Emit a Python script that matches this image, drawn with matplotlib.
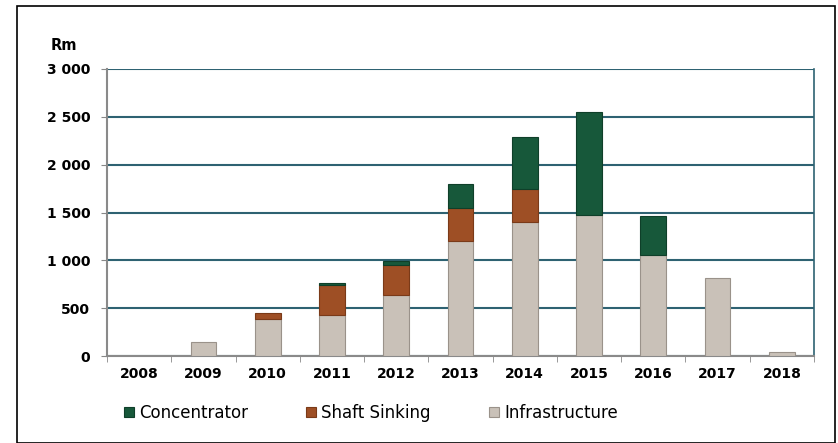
import matplotlib.pyplot as plt
import numpy as np
from matplotlib.patches import Rectangle

years = ['2008', '2009', '2010', '2011', '2012', '2013', '2014', '2015', '2016', '2017', '2018']
infrastructure = [5, 150, 390, 430, 640, 1200, 1400, 1470, 1060, 812, 40]
shaft_sinking = [0, 0, 60, 310, 310, 350, 350, 0, 0, 0, 0]
concentrator = [0, 0, 0, 20, 40, 245, 540, 1080, 400, 0, 0]
y_ticks = [0, 500, 1000, 1500, 2000, 2500, 3000]
y_labels = ['0', '500', '1 000', '1 500', '2 000', '2 500', '3 000']

c_infra = '#c9c1b8'
c_shaft = '#9e4f25'
c_conc = '#17583a'
c_grid = '#2e6272'

fig = plt.figure(figsize=(8.38, 4.43), dpi=100)
ax = fig.add_axes([107 / 838, 1 - 356 / 443, (814 - 107) / 838, (356 - 69) / 443])

# outer frame
fig.patches.append(Rectangle((17 / 838, 0), (835 - 17) / 838, 1 - 6 / 443,
                             transform=fig.transFigure, fill=False,
                             edgecolor='black', linewidth=1.2))

x = np.arange(len(years))
w = 0.4
infra = np.array(infrastructure)
shaft = np.array(shaft_sinking)
conc = np.array(concentrator)


def stack(vals, bottom, color, edge, label):
    m = vals > 0
    ax.bar(x[m], vals[m], w, bottom=bottom[m], color=color, edgecolor=edge,
           linewidth=0.8, label=label, zorder=3)


stack(infra, np.zeros_like(infra), c_infra, '#9a928a', 'Infrastructure')
stack(shaft, infra, c_shaft, '#7a3a18', 'Shaft Sinking')
stack(conc, infra + shaft, c_conc, '#0f3f29', 'Concentrator')

ax.set_xlim(-0.5, len(years) - 0.5)
ax.set_ylim(0, 3000)
ax.set_yticks(y_ticks)
ax.set_yticklabels(y_labels, fontsize=10, fontweight='bold')
ax.set_xticks(x)
ax.set_xticklabels(years, fontsize=10, fontweight='bold')
ax.set_xticks(np.arange(-0.5, len(years)), minor=True)
ax.tick_params(axis='x', which='major', length=0, pad=8)
ax.tick_params(axis='x', which='minor', length=4, color='#888888')
ax.tick_params(axis='y', length=4, color='#888888', pad=8)

ax.yaxis.grid(True, color=c_grid, linewidth=1.5, zorder=0)
ax.set_axisbelow(True)
ax.spines['top'].set_visible(False)
ax.spines['left'].set_color('#8a8a8a')
ax.spines['left'].set_linewidth(1.5)
ax.spines['bottom'].set_color('#8a8a8a')
ax.spines['bottom'].set_linewidth(1.5)
ax.spines['right'].set_color(c_grid)
ax.spines['right'].set_linewidth(1.2)

fig.text(64 / 838, 1 - 45 / 443, 'Rm', fontsize=10.5, fontweight='bold',
         ha='center', va='center')

handles, labels = ax.get_legend_handles_labels()
fig.legend(handles[::-1], labels[::-1], loc='center',
           bbox_to_anchor=(371 / 838, 1 - 413 / 443), ncol=3, frameon=False,
           fontsize=12, handlelength=0.6, handleheight=0.6, handletextpad=0.3,
           columnspacing=3.5)

fig.savefig('out.png', dpi=100)
